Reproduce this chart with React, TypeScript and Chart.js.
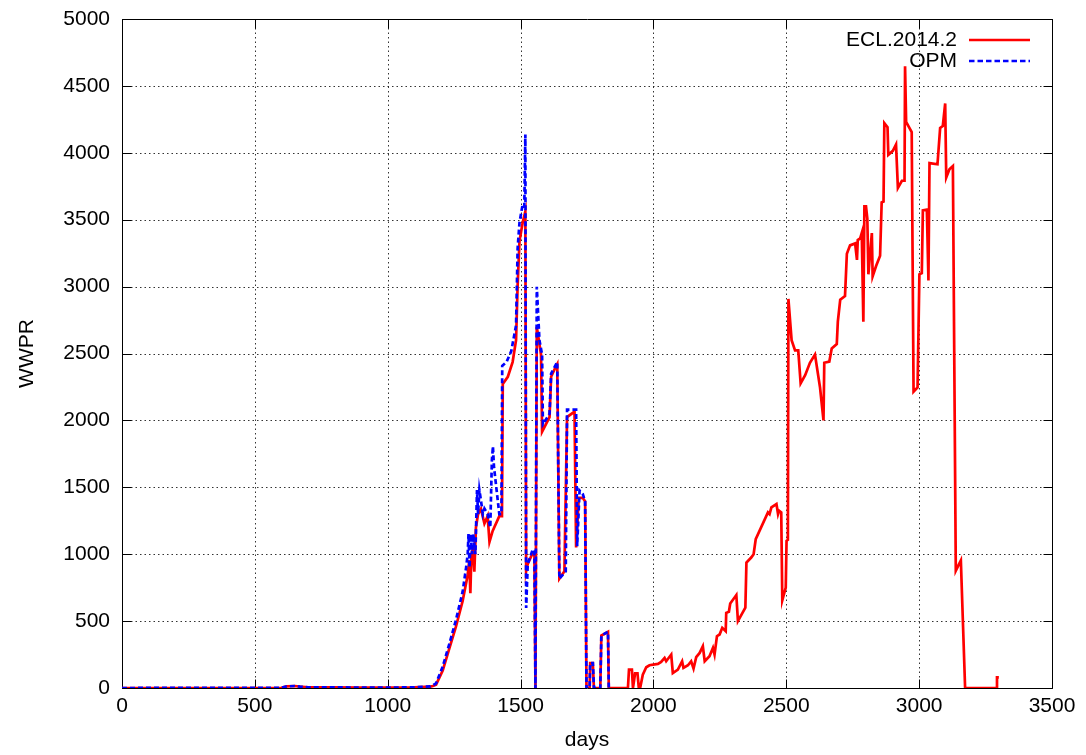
import React, { useEffect, useRef } from "react";
import { Chart, registerables } from "chart.js";

Chart.register(...registerables);

// ---------- data ----------
const seriesLabels = ["ECL.2014.2", "OPM"];
const xTicks = [0, 500, 1000, 1500, 2000, 2500, 3000, 3500];
const yTicks = [0, 500, 1000, 1500, 2000, 2500, 3000, 3500, 4000, 4500, 5000];

const eclDays = [
  0, 600, 620, 650, 670, 700, 800, 900, 1000, 1100,
  1160, 1170, 1182, 1207, 1232, 1257, 1282, 1301, 1307, 1311,
  1315, 1320, 1326, 1332, 1340, 1351, 1364, 1376, 1383, 1395,
  1420, 1430, 1433, 1452, 1470, 1483, 1489, 1496, 1508, 1518,
  1521, 1527, 1546, 1552, 1556, 1561, 1577, 1581, 1609, 1615,
  1634, 1638, 1646, 1665, 1675, 1703, 1709, 1719, 1734, 1743,
  1748, 1760, 1762, 1772, 1776, 1800, 1804, 1829, 1832, 1904,
  1908, 1919, 1923, 1931, 1940, 1945, 1950, 1960, 1973, 1985,
  2017, 2029, 2042, 2048, 2067, 2073, 2092, 2108, 2113, 2130,
  2142, 2151, 2161, 2174, 2186, 2193, 2211, 2224, 2230, 2239,
  2249, 2259, 2272, 2274, 2284, 2289, 2312, 2318, 2346, 2350,
  2368, 2377, 2385, 2431, 2437, 2444, 2463, 2469, 2473, 2481,
  2485, 2498, 2501, 2506, 2508, 2517, 2520, 2533, 2545, 2554,
  2571, 2589, 2608, 2627, 2640, 2643, 2662, 2671, 2690, 2694,
  2703, 2721, 2728, 2740, 2759, 2766, 2769, 2778, 2784, 2790,
  2794, 2800, 2805, 2809, 2822, 2825, 2838, 2853, 2859, 2866,
  2869, 2881, 2884, 2901, 2913, 2920, 2935, 2945, 2947, 2951,
  2972, 2979, 2994, 3001, 3010, 3014, 3029, 3035, 3039, 3069,
  3079, 3089, 3098, 3102, 3114, 3127, 3138, 3157, 3173, 3290,
  3293, 3300,
];
const eclWwpr = [
  0, 2, 12, 15, 10, 5, 5, 3, 3, 5,
  10, 15, 25, 130, 296, 460, 650, 845, 955, 708,
  1000, 1037, 870, 1200, 1300, 1339, 1229, 1284, 1092, 1174,
  1284, 1284, 2272, 2326, 2436, 2600, 3012, 3342, 3479, 3561,
  873, 927, 1010, 1010, 0, 2700, 2491, 1915, 2025, 2326,
  2408, 2422, 817, 872, 2025, 2066, 1050, 1421, 1421, 1394,
  0, 0, 187, 187, 0, 0, 392, 420, 0, 0,
  137, 137, 0, 110, 110, 0, 0, 100, 155, 170,
  180, 195, 225, 200, 250, 112, 137, 200, 150, 170,
  200, 145, 230, 262, 312, 200, 237, 300, 250, 387,
  400, 450, 425, 562, 570, 632, 695, 500, 600, 937,
  975, 1000, 1112, 1312, 1300, 1350, 1375, 1300, 1325, 1312,
  655, 750, 1100, 1108, 2908, 2677, 2600, 2523, 2523, 2277,
  2338, 2431, 2492, 2246, 2000, 2431, 2440, 2538, 2570, 2738,
  2902, 2929, 3246, 3308, 3323, 3200, 3348, 3360, 3400, 2738,
  3600, 3600, 3508, 3092, 3400, 3077, 3154, 3230, 3630, 3636,
  4222, 4191, 3985, 4015, 4062, 3738, 3791, 3791, 4646, 4231,
  4154, 2215, 2246, 3092, 3100, 3569, 3575, 3046, 3923, 3914,
  4185, 4200, 4369, 3815, 3877, 3901, 877, 954, 0, 0,
  80, 80,
];

const opmDays = [
  0, 600, 620, 650, 670, 700, 800, 900, 1000, 1100,
  1160, 1170, 1182, 1207, 1232, 1257, 1282, 1295, 1301, 1304,
  1308, 1312, 1318, 1322, 1330, 1336, 1340, 1345, 1351, 1358,
  1364, 1376, 1386, 1392, 1396, 1400, 1420, 1428, 1431, 1447,
  1465, 1483, 1489, 1496, 1508, 1514, 1518, 1521, 1527, 1546,
  1552, 1556, 1561, 1571, 1581, 1584, 1609, 1615, 1638, 1646,
  1670, 1675, 1709, 1713, 1722, 1734, 1743, 1748, 1760, 1762,
  1772, 1776, 1800, 1804, 1829, 1832,
];
const opmWwpr = [
  0, 2, 12, 15, 10, 5, 5, 3, 3, 5,
  12, 20, 35, 160, 330, 510, 720, 900, 1000, 1150,
  900, 1150, 1000, 1150, 1000, 1480, 1300, 1480, 1400, 1300,
  1340, 1300, 1200, 1700, 1805, 1650, 1300, 1300, 2408, 2436,
  2518, 2710, 3287, 3479, 3616, 3600, 4137, 598, 927, 1037,
  1010, 0, 2999, 2600, 2491, 1970, 2050, 2350, 2436, 817,
  872, 2080, 2080, 1060, 1476, 1450, 1394, 0, 0, 187,
  187, 0, 0, 392, 420, 0,
];

// ---------- styling ----------
const FONT_FAMILY = '"Liberation Sans", Arial, Helvetica, sans-serif';
const FONT_SIZE = 21;
const LINE_WIDTH = 2.7;

const toPoints = (xs: number[], ys: number[]) =>
  xs.map((x, i) => ({ x, y: ys[i] }));

const gnuplotFrame = {
  id: "gnuplotFrame",
  beforeDatasetsDraw(chart: any) {
    const { ctx, chartArea: a, scales } = chart;
    const xs = scales.x;
    const ys = scales.y;
    ctx.save();
    // dotted grid
    ctx.strokeStyle = "rgba(0,0,0,0.8)";
    ctx.lineWidth = 1;
    ctx.setLineDash([1.5, 3]);
    ctx.beginPath();
    xTicks.forEach((v) => {
      const px = Math.round(xs.getPixelForValue(v)) + 0.5;
      ctx.moveTo(px, a.top);
      ctx.lineTo(px, a.bottom);
    });
    yTicks.forEach((v) => {
      const py = Math.round(ys.getPixelForValue(v)) + 0.5;
      ctx.moveTo(a.left, py);
      ctx.lineTo(a.right, py);
    });
    ctx.stroke();
    // frame + inward ticks
    ctx.setLineDash([]);
    ctx.strokeStyle = "#000";
    ctx.lineWidth = 1;
    const l = Math.round(a.left) + 0.5;
    const r = Math.round(a.right) + 0.5;
    const t = Math.round(a.top) + 0.5;
    const b = Math.round(a.bottom) + 0.5;
    ctx.beginPath();
    ctx.rect(l, t, r - l, b - t);
    const tl = 9;
    xTicks.forEach((v) => {
      const px = Math.round(xs.getPixelForValue(v)) + 0.5;
      ctx.moveTo(px, b);
      ctx.lineTo(px, b - tl);
      ctx.moveTo(px, t);
      ctx.lineTo(px, t + tl);
    });
    yTicks.forEach((v) => {
      const py = Math.round(ys.getPixelForValue(v)) + 0.5;
      ctx.moveTo(l, py);
      ctx.lineTo(l + tl, py);
      ctx.moveTo(r, py);
      ctx.lineTo(r - tl, py);
    });
    ctx.stroke();
    ctx.restore();
  },
  afterDraw(chart: any) {
    const { ctx, chartArea: a } = chart;
    const textRight = a.right - 95;
    const lineStart = a.right - 83;
    const lineEnd = a.right - 22;
    const rows = [
      { label: seriesLabels[0], color: "#ff0000", dash: [] as number[], y: a.top + 21 },
      { label: seriesLabels[1], color: "#0000ff", dash: [5.5, 3], y: a.top + 42 },
    ];
    ctx.save();
    ctx.font = `${FONT_SIZE}px ${FONT_FAMILY}`;
    ctx.textAlign = "right";
    ctx.textBaseline = "middle";
    rows.forEach((row) => {
      ctx.fillStyle = "#000";
      ctx.fillText(row.label, textRight, row.y);
      ctx.strokeStyle = row.color;
      ctx.lineWidth = LINE_WIDTH;
      ctx.setLineDash(row.dash);
      ctx.beginPath();
      ctx.moveTo(lineStart, row.y);
      ctx.lineTo(lineEnd, row.y);
      ctx.stroke();
    });
    ctx.restore();
  },
};

export default function App() {
  const canvasRef = useRef<HTMLCanvasElement | null>(null);

  useEffect(() => {
    if (!canvasRef.current) return;
    const font = { family: FONT_FAMILY, size: FONT_SIZE, lineHeight: 1.2 };
    const plain = (v: any) => String(v);
    const chart = new Chart(canvasRef.current, {
      type: "line",
      data: {
        datasets: [
          {
            label: seriesLabels[0],
            data: toPoints(eclDays, eclWwpr),
            borderColor: "#ff0000",
            borderWidth: LINE_WIDTH,
            pointRadius: 0,
            tension: 0,
            fill: false,
            order: 2,
          },
          {
            label: seriesLabels[1],
            data: toPoints(opmDays, opmWwpr),
            borderColor: "#0000ff",
            borderWidth: LINE_WIDTH,
            borderDash: [5, 3],
            pointRadius: 0,
            tension: 0,
            fill: false,
            order: 1,
          },
        ],
      },
      options: {
        animation: false,
        responsive: false,
        events: [],
        layout: { padding: { top: 19, right: 34, left: 0, bottom: 0 } },
        plugins: {
          legend: { display: false },
          tooltip: { enabled: false },
        },
        scales: {
          x: {
            type: "linear",
            min: 0,
            max: 3500,
            afterBuildTicks: (s: any) => {
              s.ticks = xTicks.map((v) => ({ value: v }));
            },
            afterFit: (s: any) => {
              s.height = 67;
              s.paddingLeft = 0;
              s.paddingRight = 0;
              s.paddingTop = 0;
              s.paddingBottom = 0;
            },
            grid: { display: false, drawTicks: false },
            border: { display: false },
            ticks: {
              color: "#000",
              font,
              padding: 6,
              autoSkip: false,
              maxRotation: 0,
              minRotation: 0,
              callback: plain,
            },
            title: {
              display: true,
              text: "days",
              color: "#000",
              font,
              padding: { top: 0, bottom: 2 },
            },
          },
          y: {
            type: "linear",
            min: 0,
            max: 5000,
            afterBuildTicks: (s: any) => {
              s.ticks = yTicks.map((v) => ({ value: v }));
            },
            afterFit: (s: any) => {
              s.width = 122;
              s.paddingLeft = 0;
              s.paddingRight = 0;
              s.paddingTop = 0;
              s.paddingBottom = 0;
            },
            grid: { display: false, drawTicks: false },
            border: { display: false },
            ticks: {
              color: "#000",
              font,
              padding: 12,
              autoSkip: false,
              callback: plain,
            },
            title: {
              display: true,
              text: "WWPR",
              color: "#000",
              font,
              padding: { top: 15, bottom: 0 },
            },
          },
        },
      },
      plugins: [gnuplotFrame],
    } as any);
    return () => chart.destroy();
  }, []);

  return (
    <div
      style={{
        position: "fixed",
        left: 0,
        top: 0,
        width: 1086,
        height: 755,
        background: "#fff",
      }}
    >
      <canvas ref={canvasRef} width={1086} height={755} style={{ display: "block" }} />
    </div>
  );
}
